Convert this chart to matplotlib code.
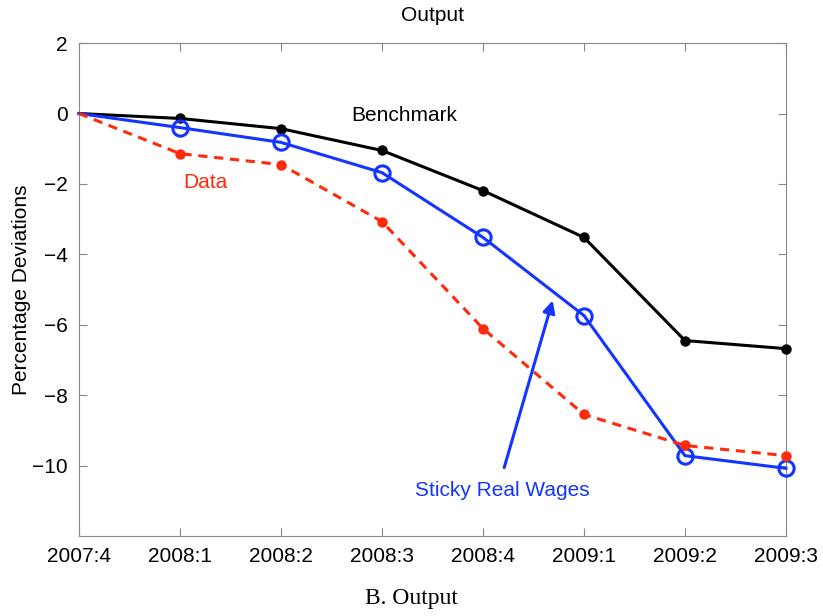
import numpy as np
import matplotlib.pyplot as plt

plt.rcParams["font.family"] = ["Liberation Sans", "DejaVu Sans"]

quarters = ["2007:4", "2008:1", "2008:2", "2008:3", "2008:4", "2009:1", "2009:2", "2009:3"]
benchmark = [0.0, -0.14, -0.43, -1.05, -2.19, -3.52, -6.45, -6.68]
sticky_wages = [0.0, -0.40, -0.82, -1.68, -3.52, -5.74, -9.72, -10.08]
data = [0.0, -1.14, -1.45, -3.07, -6.11, -8.55, -9.43, -9.72]

black = "#000000"
blue = "#1434ff"
red = "#ff2a0a"
fs = 15

fig = plt.figure(figsize=(8.23, 6.16), dpi=100)
ax = fig.add_axes([0.096, 0.130, 0.859, 0.800])

x = np.arange(len(quarters))
# no marker at the starting quarter
mk = slice(1, None)
ax.plot(x, benchmark, color=black, lw=2.2, marker="o", ms=6.5,
        markevery=mk, clip_on=False, zorder=3)
ax.plot(x, sticky_wages, color=blue, lw=2.2, marker="o", ms=11,
        mfc="none", mec=blue, mew=2.2, markevery=mk, clip_on=False, zorder=3)
ax.plot(x, data, color=red, lw=2.2, ls=(0, (3, 2.2)), marker="o", ms=6.5,
        markevery=mk, clip_on=False, zorder=3)

ax.text(3.22, -0.06, "Benchmark", color=black, fontsize=fs, ha="center", va="center")
ax.text(1.25, -1.96, "Data", color=red, fontsize=fs, ha="center", va="center")
ax.text(4.19, -10.7, "Sticky Real Wages", color=blue, fontsize=fs, ha="center", va="center")
ax.annotate("", xy=(4.69, -5.31), xytext=(4.21, -10.06),
            arrowprops=dict(arrowstyle="-|>", color=blue, lw=2.2,
                            mutation_scale=18, shrinkA=0, shrinkB=0))

ax.set_xlim(0, len(quarters) - 1)
ax.set_ylim(-12, 2)
ax.set_xticks(x)
ax.set_xticklabels(quarters)
ax.set_yticks([-10, -8, -6, -4, -2, 0, 2])
ax.tick_params(direction="in", top=True, right=True, labelsize=fs,
               length=6, color="#888888", pad=8)
for s in ax.spines.values():
    s.set_color("#888888")

ax.set_title("Output", fontsize=fs, pad=16)
ax.set_ylabel("Percentage Deviations", fontsize=fs, labelpad=1)

fig.text(0.5, 0.028, "B. Output", ha="center", va="center", fontsize=17,
         family="Liberation Serif")

fig.savefig("out.png", dpi=100)
